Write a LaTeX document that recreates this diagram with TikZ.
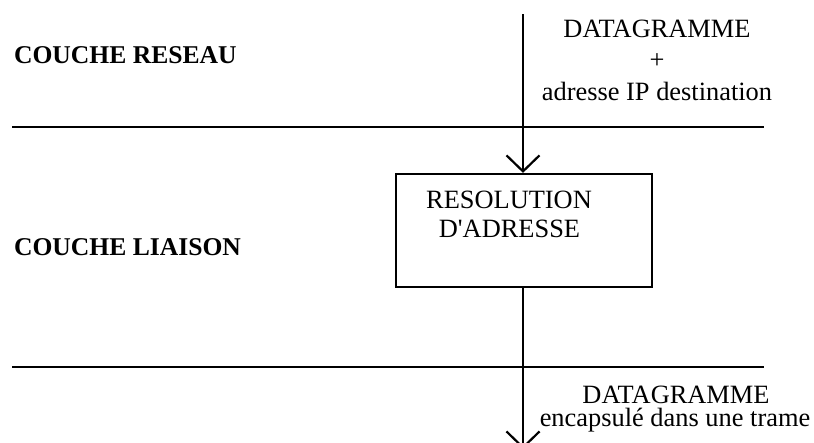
\documentclass[tikz,border=0pt]{standalone}
\usepackage{fontspec}
\setmainfont{Liberation Serif}[Ligatures=TeXOff]
\usetikzlibrary{arrows.meta}
\begin{document}
\begin{tikzpicture}[x=1pt,y=-1pt,
  line width=2.2pt,
  txt/.style={inner sep=0pt, anchor=base, font=\fontsize{26.4}{31.7}\selectfont},
  lbl/.style={inner sep=0pt, anchor=base west, font=\fontsize{25.6}{30}\selectfont\bfseries},
  sep/.style={line width=2.4pt},
  flow/.style={-{Straight Barb[length=16pt,width=33pt,line width=2.2pt]}}]
\useasboundingbox (0,0) rectangle (814,442);
% separator lines
\coordinate (s1a) at (12,127);
\coordinate (s1b) at (764,127);
\coordinate (s2a) at (12,367);
\coordinate (s2b) at (764,367);
\draw[sep] (s1a) -- (s1b);
\draw[sep] (s2a) -- (s2b);
% layer labels
\node[lbl] (reseau) at (13,63) {COUCHE RESEAU};
\node[lbl] (liaison) at (13,255) {COUCHE LIAISON};
% box
\node[draw, minimum width=256pt, minimum height=113pt, inner sep=0pt] (box) at (524,230.5) {};
\node[txt] (r1) at (509,208) {RESOLUTION};
\node[txt] (r2) at (509.5,237) {D'ADRESSE};
% top text
\node[txt] (t1) at (657,37) {DATAGRAMME};
\node[txt] (t2) at (657,68.5) {+};
\node[txt] (t3) at (657,100) {adresse IP destination};
% bottom text
\node[txt] (b1) at (676,403) {DATAGRAMME};
\node[txt] (b2) at (675,426) {encapsulé dans une trame};
% flow
\coordinate (in) at (523,14);
\coordinate (out) at (523,449);
\draw[flow] (in) -- (box.north -| in);
\draw[flow] (box.south -| in) -- (out);
\end{tikzpicture}
\end{document}
